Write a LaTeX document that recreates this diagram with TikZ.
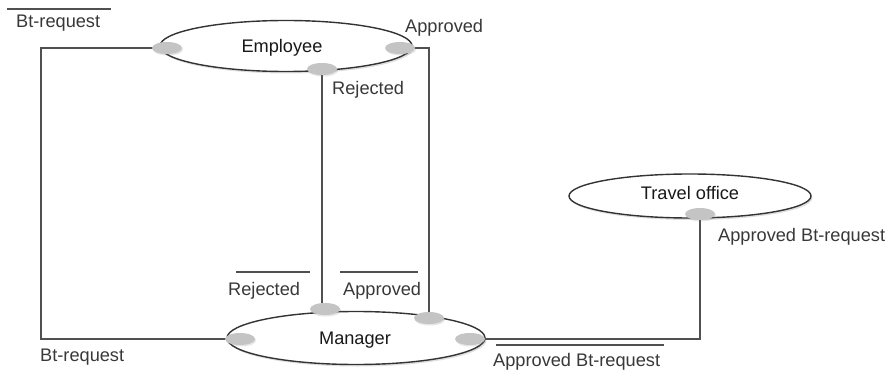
\documentclass[tikz,border=0pt]{standalone}
\usepackage{fontspec}
\setmainfont{Liberation Sans}
\usetikzlibrary{shapes.geometric,shadows,backgrounds}
\definecolor{linec}{HTML}{505050}
\definecolor{txtc}{HTML}{383838}
\definecolor{portc}{HTML}{C4C4C4}
\begin{document}
\begin{tikzpicture}[x=1pt,y=-1pt,
  actor/.style={ellipse,draw=black!80,line width=1.4pt,fill=white,inner sep=0pt,
    drop shadow={shadow xshift=1.5pt,shadow yshift=-2pt,opacity=0.25}},
  title/.style={font=\fontsize{18.2}{20}\selectfont,text=black!90,inner sep=0pt},
  port/.style={ellipse,fill=portc,inner sep=0pt,minimum width=30pt,minimum height=12pt,
    drop shadow={shadow xshift=1pt,shadow yshift=-1.5pt,opacity=0.2}},
  conn/.style={draw=linec,line width=1.8pt},
  lbl/.style={font=\fontsize{18.2}{20}\selectfont,text=txtc,inner sep=0pt},
  bar/.style={draw=linec,line width=1.8pt}]
\useasboundingbox (0,0) rectangle (890,371);
\node[actor,minimum width=252pt,minimum height=51pt] (emp) at (286,46) {};
\node[actor,minimum width=258pt,minimum height=53pt] (man) at (356,338) {};
\node[actor,minimum width=242pt,minimum height=44pt] (tra) at (690,196) {};
\node[title] (empT) at (282,48) {Employee};
\node[title] (manT) at (355,340) {Manager};
\node[title] (traT) at (690,193) {Travel office};
\coordinate (eL) at (167,48);
\coordinate (eR) at (400,48);
\coordinate (eB) at (322,69);
\coordinate (mL) at (240,339);
\coordinate (mT) at (325,309);
\coordinate (mU) at (429,318);
\coordinate (mR) at (470,339);
\coordinate (tB) at (700,214);
\coordinate (cL) at (41,200);
\coordinate (cR) at (429,200);
\coordinate (cT) at (700,300);
\draw[conn] (eL) -| (cL) |- (mL);
\draw[conn] (eB) -- (eB |- mT) -- (mT);
\draw[conn] (eR) -| (cR) -- (mU);
\draw[conn] (mR) -| (cT) -- (tB);
\node[port] (peL) at (eL) {};
\node[port] (peR) at (eR) {};
\node[port] (peB) at (eB) {};
\node[port] (pmL) at (mL) {};
\node[port] (pmT) at (mT) {};
\node[port] (pmU) at (mU) {};
\node[port] (pmR) at (mR) {};
\node[port] (ptB) at (tB) {};
% labels
\node[lbl,anchor=west] (l1) at (16,23) {Bt-request};
\draw[bar] (7,9) -- (111,9);
\node[lbl,anchor=west] (l2) at (405,28) {Approved};
\node[lbl,anchor=west] (l3) at (332,90) {Rejected};
\node[lbl,anchor=west] (l4) at (228,291) {Rejected};
\draw[bar] (236,272) -- (310,272);
\node[lbl,anchor=west] (l5) at (343,291) {Approved};
\draw[bar] (340,272) -- (418,272);
\node[lbl,anchor=west] (l6) at (40,357) {Bt-request};
\node[lbl,anchor=west] (l7) at (493,362) {Approved Bt-request};
\draw[bar] (496,345) -- (664,345);
\node[lbl,anchor=west] (l8) at (718,237) {Approved Bt-request};
\end{tikzpicture}
\end{document}
